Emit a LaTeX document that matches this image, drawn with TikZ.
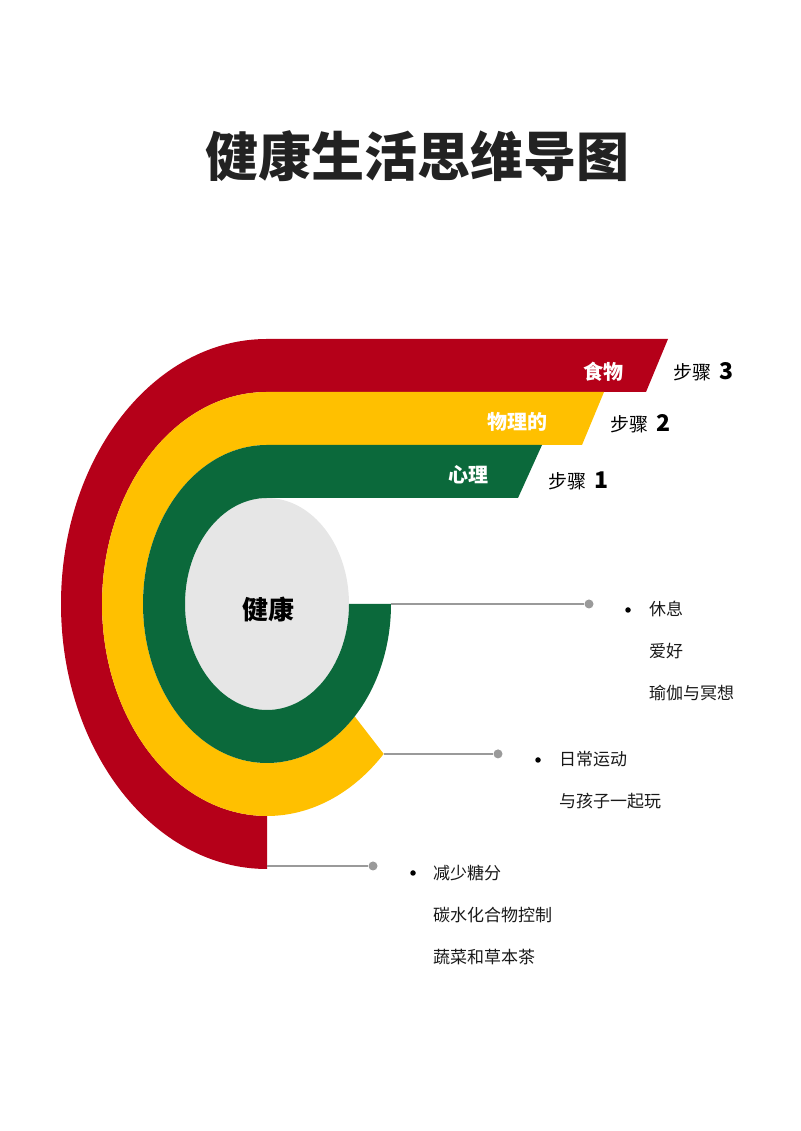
\documentclass[tikz,border=0pt]{standalone}
\usepackage{fontspec}
\setmainfont{Noto Sans CJK SC}
\usepackage{xcolor}
\usepackage{tikz}
\usetikzlibrary{positioning}

\definecolor{bandred}{HTML}{B50019}
\definecolor{bandyellow}{HTML}{FFC000}
\definecolor{bandgreen}{HTML}{0B693B}
\definecolor{corefill}{HTML}{E6E6E6}
\definecolor{linkgray}{HTML}{9A9A9A}
\definecolor{titlegray}{HTML}{222222}

\newcommand{\stepnum}[1]{\textbf{\fontsize{23}{26}\selectfont #1}}

\begin{document}
\begin{tikzpicture}[x=1pt, y=1pt,
		bandlabel/.style={text=white, font=\bfseries\fontsize{20}{24}\selectfont},
		steplabel/.style={anchor=west, inner sep=0pt, font=\fontsize{19}{23}\selectfont},
		item/.style={anchor=west, inner sep=0pt, text=black!90, font=\fontsize{17}{20}\selectfont},
		bullet/.style={circle, fill=black, inner sep=0pt, minimum size=5.5pt},
		enddot/.style={circle, fill=linkgray, inner sep=0pt, minimum size=9pt},
		link/.style={draw=linkgray, line width=2pt}]
	\useasboundingbox (0,0) rectangle (800,1131);
	% title
	\node[text=titlegray, font=\bfseries\fontsize{53}{60}\selectfont] (title) at (417,975) {健康生活思维导图};
	% core
	\fill[corefill] (267,527) ellipse[x radius=82pt, y radius=106pt];
	\node[font=\bfseries\fontsize{26}{30}\selectfont] (core) at (268,521) {健康};
	% bands
	\fill[bandred] (668,792) -- (267,792) arc[start angle=90, end angle=270, x radius=206pt, y radius=265pt]
		-- (267,315) arc[start angle=270, end angle=90, x radius=165pt, y radius=212pt] -- (646,739) -- cycle;
	\fill[bandyellow] (604,739) -- (267,739) arc[start angle=90, end angle=315, x radius=165pt, y radius=212pt]
		-- ++(135:41 and 53) arc[start angle=315, end angle=90, x radius=124pt, y radius=159pt] -- (582,686) -- cycle;
	\fill[bandgreen] (542,686) -- (267,686) arc[start angle=90, end angle=360, x radius=124pt, y radius=159pt]
		-- (349,527) arc[start angle=360, end angle=90, x radius=82pt, y radius=106pt] -- (518,633) -- cycle;
	\node[bandlabel] (food) at (603,759) {食物};
	\node[bandlabel] (body) at (517,709) {物理的};
	\node[bandlabel] (mind) at (468,656) {心理};
	\node[steplabel] (step3) at (673,759) {步骤\ \ \stepnum{3}};
	\node[steplabel] (step2) at (610,707) {步骤\ \ \stepnum{2}};
	\node[steplabel] (step1) at (548,650) {步骤\ \ \stepnum{1}};
	% connectors
	\coordinate (greenEnd) at (391,527);
	\coordinate (yellowEnd) at (383.7,377.1);
	\coordinate (redEnd) at (267,265);
	\node[enddot] (greenDot) at (589,527) {};
	\node[enddot] (yellowDot) at (498,377.1) {};
	\node[enddot] (redDot) at (373,265) {};
	\draw[link] (greenEnd) -- (greenDot);
	\draw[link] (yellowEnd) -- (yellowDot);
	\draw[link] (redEnd) -- (redDot);
	% lists
	\node[bullet] (mindBullet) at (628,521) {};
	\foreach \txt [count=\i from 0] in {休息,爱好,瑜伽与冥想}
		\node[item] (mind\i) at (649,522-42*\i) {\txt};
	\node[bullet] (bodyBullet) at (538,371) {};
	\foreach \txt [count=\i from 0] in {日常运动,与孩子一起玩}
		\node[item] (body\i) at (559,372-42*\i) {\txt};
	\node[bullet] (foodBullet) at (413,258) {};
	\foreach \txt [count=\i from 0] in {减少糖分,碳水化合物控制,蔬菜和草本茶}
		\node[item] (food\i) at (433,258-42*\i) {\txt};
\end{tikzpicture}
\end{document}
